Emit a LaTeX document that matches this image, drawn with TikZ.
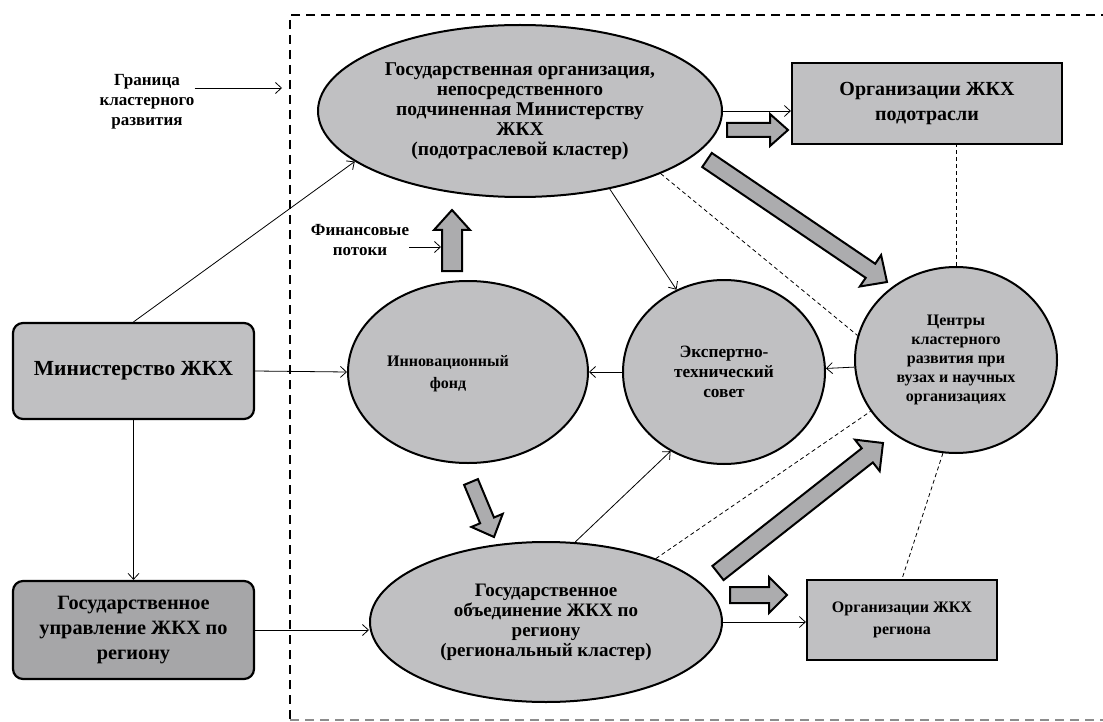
\documentclass[tikz,border=0pt]{standalone}
\usepackage{fontspec}
\setmainfont{Liberation Serif}
\usepackage{tikz}
\usetikzlibrary{shapes,arrows.meta,positioning,calc}

\definecolor{lgray}{RGB}{192,192,194}
\definecolor{dgray}{RGB}{166,166,168}
\definecolor{agray}{RGB}{172,172,174}

% thick grey arrow: tail, tip, half shaft, half head, head length
\newcommand{\blockarrow}[5]{%
  \coordinate (hb) at ($(#2)!#5!(#1)$);
  \draw[fat] ($(#1)!#3!90:(#2)$) -- ($(hb)!#3!-90:(#1)$) -- ($(hb)!#4!-90:(#1)$) -- (#2)
    -- ($(hb)!#4!90:(#1)$) -- ($(hb)!#3!90:(#1)$) -- ($(#1)!#3!-90:(#2)$) -- cycle;}

\begin{document}
\begin{tikzpicture}[x=1pt,y=-1pt, >={Straight Barb[length=6pt,width=11pt]},
  oval/.style={ellipse, draw, fill=lgray, line width=2pt, inner sep=0pt, align=center},
  box/.style={rectangle, draw, fill=lgray, line width=2.2pt, inner sep=0pt, align=center},
  rbox/.style={box, rounded corners=10pt},
  link/.style={->, line width=0.8pt},
  weak/.style={line width=0.8pt, dash pattern=on 4pt off 3pt},
  fat/.style={draw, fill=agray, line width=2pt, line join=miter},
  border/.style={line width=2pt, dash pattern=on 9pt off 6pt}]
\useasboundingbox (0,0) rectangle (1103,722);

% cluster boundary
\draw[border] (1110,15) -- (290,15) -- (290,720);
\draw[border, black!45] (290,720) -- (1110,720);

\node[rbox, minimum width=241pt, minimum height=96pt, font=\fontsize{21.5}{25}\selectfont\bfseries] (min) at (133.5,371) {Министерство ЖКХ};
\node[rbox, fill=dgray, minimum width=241pt, minimum height=98pt, font=\fontsize{20.3}{25}\selectfont\bfseries] (upr) at (133.5,630) {Государственное\\управление ЖКХ по\\региону};
\node[oval, minimum width=404pt, minimum height=172pt, font=\fontsize{19.5}{20}\selectfont\bfseries] (gorg) at (520,111) {Государственная организация,\\непосредственного\\подчиненная Министерству\\ЖКХ\\(подотраслевой кластер)};
\node[box, minimum width=270pt, minimum height=81pt, font=\fontsize{20}{25}\selectfont\bfseries] (podo) at (927,103.5) {Организации ЖКХ\\подотрасли};
\node[oval, minimum width=240pt, minimum height=182pt,
  label={[font=\fontsize{16}{22}\selectfont\bfseries, align=center, xshift=-20pt, yshift=-2pt]center:Инновационный\\фонд}] (fund) at (468,372) {};
\node[oval, minimum width=202pt, minimum height=184pt, font=\fontsize{17.3}{20}\selectfont\bfseries] (expert) at (724,372) {Экспертно-\\технический\\совет};
\node[oval, minimum width=202pt, minimum height=186pt, font=\fontsize{16}{19}\selectfont\bfseries] (centr) at (956,360) {Центры\\кластерного\\развития при\\вузах и научных\\организациях};
\node[oval, minimum width=352pt, minimum height=160pt, font=\fontsize{19}{20}\selectfont\bfseries] (reg) at (546,622) {Государственное\\объединение ЖКХ по\\региону\\(региональный кластер)};
\node[box, minimum width=190pt, minimum height=80pt, font=\fontsize{16}{22}\selectfont\bfseries] (regorg) at (902,620) {Организации ЖКХ\\региона};

\node[align=center, inner sep=0pt, font=\fontsize{17}{20}\selectfont\bfseries] (gran) at (147,102) {Граница\\кластерного\\развития};
\node[align=center, inner sep=0pt, font=\fontsize{17}{20}\selectfont\bfseries] (fin) at (360,240) {Финансовые\\потоки};
\coordinate (gb) at (282,88);
\coordinate (ft) at (441,247);

% thin links
\draw[link] (gran.east |- gb) -- (gb);
\draw[link] (fin.east |- ft) -- (ft);
\draw[link] (min.north) -- (gorg.197);
\draw[link] (min.east) -- (fund.west);
\draw[link] (min.south) -- (upr.north);
\draw[link] (upr.east) -- (reg.west |- upr.east);
\draw[link] (gorg.east) -- (podo.west |- gorg.east);
\draw[link] (gorg.-41) -- (expert.120);
\draw[link] (expert.west) -- (fund.east);
\draw[link] (centr.184) -- (expert.2);
\draw[link] (reg.70) -- (expert.236);
\draw[link] (reg.east) -- (regorg.west |- reg.east);

% dashed ties
\draw[weak] (gorg.-24) -- (centr.166);
\draw[weak] (centr.north) -- (centr.north |- podo.south);
\draw[weak] (reg.30) -- (centr.211);
\draw[weak] (centr.-98) -- (regorg.north);

% flows
\coordinate (a1) at (452,271); \coordinate (a2) at (452,210);
\coordinate (b1) at (727,130); \coordinate (b2) at (788,130);
\coordinate (c1) at (707,160); \coordinate (c2) at (887,282);
\coordinate (d1) at (471,482); \coordinate (d2) at (494,537);
\coordinate (e1) at (718,573); \coordinate (e2) at (883,443);
\coordinate (f1) at (730,595); \coordinate (f2) at (787,595);
\blockarrow{a1}{a2}{10pt}{18pt}{20pt}
\blockarrow{b1}{b2}{7pt}{16pt}{18pt}
\blockarrow{c1}{c2}{8.5pt}{19pt}{20pt}
\blockarrow{d1}{d2}{7.5pt}{17pt}{18pt}
\blockarrow{e1}{e2}{9pt}{20pt}{20pt}
\blockarrow{f1}{f2}{8pt}{18pt}{18pt}
\end{tikzpicture}
\end{document}
